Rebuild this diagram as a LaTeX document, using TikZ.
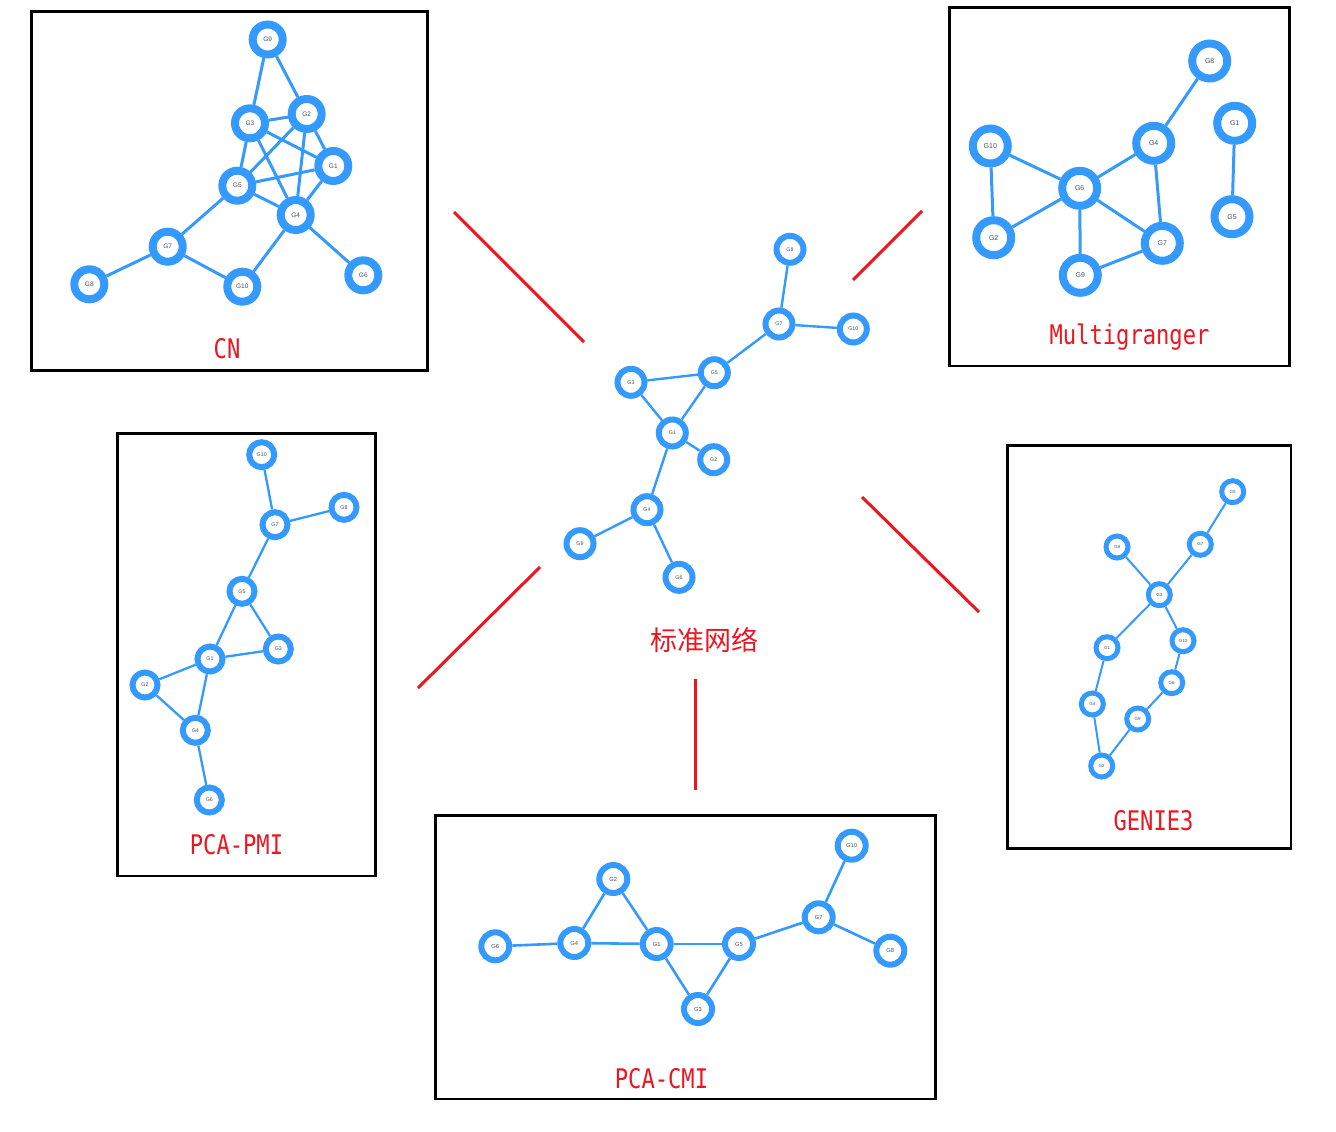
\documentclass[tikz,border=0pt]{standalone}
\usepackage{fontspec}
\usepackage{graphicx}
\newfontfamily\labfont{Liberation Sans}
\newfontfamily\ttlab{DejaVu Sans Mono}
\newfontfamily\cjkfont{Noto Sans CJK SC}
\definecolor{nblue}{RGB}{52,154,255}
\definecolor{ntext}{RGB}{70,78,95}
\definecolor{lred}{RGB}{236,22,32}
\tikzset{
  gn/.style={circle, draw=nblue, fill=white, inner sep=0pt, text=ntext},
  cnn/.style={gn, line width=8pt, minimum size=30pt, font=\labfont\fontsize{6.5}{6.5}\selectfont},
  mgn/.style={gn, line width=8pt, minimum size=35pt, font=\labfont\fontsize{7}{7}\selectfont},
  stn/.style={gn, line width=6pt, minimum size=27pt, font=\labfont\fontsize{5.3}{5.3}\selectfont},
  ppn/.style={gn, line width=6pt, minimum size=25pt, font=\labfont\fontsize{5.3}{5.3}\selectfont},
  gen/.style={gn, line width=5pt, minimum size=22pt, font=\labfont\fontsize{4.5}{4.5}\selectfont},
  pcn/.style={gn, line width=6pt, minimum size=28pt, font=\labfont\fontsize{5.8}{5.8}\selectfont},
  cne/.style={draw=nblue, line width=3pt},
  mge/.style={draw=nblue, line width=3pt},
  ste/.style={draw=nblue, line width=2.4pt},
  ppe/.style={draw=nblue, line width=2.3pt},
  gee/.style={draw=nblue, line width=2pt},
  pce/.style={draw=nblue, line width=2.6pt},
  panel/.style={draw=black, line width=2.5pt},
  redln/.style={draw=lred, line width=3pt},
  ptitle/.style={text=lred, inner sep=0pt, font=\ttlab\fontsize{27}{27}\selectfont},
}
\newcommand{\sq}[1]{\scalebox{0.82}[1]{#1}}
\begin{document}
\begin{tikzpicture}[x=1pt,y=-1pt]
\useasboundingbox (0,0) rectangle (1336,1132);
\fill[white] (0,0) rectangle (1336,1132);

% panel frames
\draw[panel] (31.5,11.5) rectangle (427.5,370.5);
\draw[panel] (949.5,7.5) rectangle (1289.5,366);
\draw[panel] (117.5,433.5) rectangle (375.5,876);
\draw[panel] (1007.5,445.5) rectangle (1291,848.5);
\draw[panel] (435.5,815.5) rectangle (935.5,1099);

% ---------- CN ----------
\node[cnn] (c9) at (267.7,39.5) {G9};
\node[cnn] (c3) at (250,123.3) {G3};
\node[cnn] (c2) at (306.7,114) {G2};
\node[cnn] (c1) at (333.3,166) {G1};
\node[cnn] (c5) at (237.3,185.7) {G5};
\node[cnn] (c4) at (295.7,215) {G4};
\node[cnn] (c7) at (167.7,246.7) {G7};
\node[cnn] (c8) at (89.3,284.3) {G8};
\node[cnn] (c10) at (242.3,286.7) {G10};
\node[cnn] (c6) at (363.3,275.3) {G6};
\foreach \a/\b in {c9/c3,c9/c2,c3/c2,c3/c1,c3/c5,c3/c4,c2/c5,c2/c4,c2/c1,c5/c1,c5/c4,c1/c4,c5/c7,c7/c8,c7/c10,c10/c4,c4/c6}
  \draw[cne] (\a) -- (\b);
\node[ptitle] (tcn) at (227,349) {\sq{CN}};

% ---------- Multigranger ----------
\node[mgn] (m8) at (1209.7,61) {G8};
\node[mgn] (m1) at (1234.7,123.3) {G1};
\node[mgn] (m4) at (1153.7,143.3) {G4};
\node[mgn] (m10) at (990.3,146) {G10};
\node[mgn] (m6) at (1079.7,188.3) {G6};
\node[mgn] (m5) at (1232,216.7) {G5};
\node[mgn] (m2) at (993.7,237.7) {G2};
\node[mgn] (m7) at (1162.3,243.3) {G7};
\node[mgn] (m9) at (1080.3,275.3) {G9};
\foreach \a/\b in {m8/m4,m4/m6,m4/m7,m10/m6,m10/m2,m6/m2,m6/m9,m6/m7,m9/m7,m1/m5}
  \draw[mge] (\a) -- (\b);
\node[ptitle] (tmg) at (1129.5,337) {\sq{Multigranger}};

% ---------- standard network ----------
\node[stn] (s8) at (790,249.3) {G8};
\node[stn] (s7) at (779,324) {G7};
\node[stn] (s10) at (853.3,329) {G10};
\node[stn] (s5) at (714.3,372.7) {G5};
\node[stn] (s3) at (631,382.3) {G3};
\node[stn] (s1) at (672.3,433) {G1};
\node[stn] (s2) at (713.7,459.7) {G2};
\node[stn] (s4) at (647,509.7) {G4};
\node[stn] (s9) at (580,543.7) {G9};
\node[stn] (s6) at (679,577.3) {G6};
\foreach \a/\b in {s8/s7,s7/s10,s7/s5,s5/s3,s3/s1,s5/s1,s1/s2,s1/s4,s4/s9,s4/s6}
  \draw[ste] (\a) -- (\b);
\node[text=lred, inner sep=0pt, font=\cjkfont\fontsize{27}{27}\selectfont] (tst) at (704,640) {标准网络};

% ---------- PCA-PMI ----------
\node[ppn] (p10) at (261.7,454.7) {G10};
\node[ppn] (p8) at (344,507.3) {G8};
\node[ppn] (p7) at (275,524.7) {G7};
\node[ppn] (p5) at (242,591.3) {G5};
\node[ppn] (p3) at (278.3,649) {G3};
\node[ppn] (p1) at (210,659) {G1};
\node[ppn] (p2) at (145,685) {G2};
\node[ppn] (p4) at (195.3,730.3) {G4};
\node[ppn] (p6) at (209.3,800) {G6};
\foreach \a/\b in {p10/p7,p7/p8,p7/p5,p5/p1,p5/p3,p1/p3,p1/p2,p1/p4,p2/p4,p4/p6}
  \draw[ppe] (\a) -- (\b);
\node[ptitle] (tpp) at (236.5,845) {\sq{PCA-PMI}};

% ---------- GENIE3 ----------
\node[gen] (g5) at (1232.7,491.7) {G5};
\node[gen] (g8) at (1117,547) {G8};
\node[gen] (g7) at (1200.3,544.3) {G7};
\node[gen] (g3) at (1159.3,594.7) {G3};
\node[gen] (g1) at (1107,647.7) {G1};
\node[gen] (g10) at (1183,640.7) {G10};
\node[gen] (g6) at (1171.7,682.7) {G6};
\node[gen] (g4) at (1092.3,704) {G4};
\node[gen] (g9) at (1137.7,719) {G9};
\node[gen] (g2) at (1101.7,766) {G2};
\foreach \a/\b in {g5/g7,g7/g3,g8/g3,g3/g1,g3/g10,g10/g6,g6/g9,g9/g2,g1/g4,g4/g2}
  \draw[gee] (\a) -- (\b);
\node[ptitle] (tge) at (1153.5,821) {\sq{GENIE3}};

% ---------- PCA-CMI ----------
\node[pcn] (q10) at (851.7,845.7) {G10};
\node[pcn] (q2) at (613.3,879) {G2};
\node[pcn] (q7) at (818.7,917.3) {G7};
\node[pcn] (q6) at (495.3,946.3) {G6};
\node[pcn] (q4) at (574.3,943) {G4};
\node[pcn] (q1) at (656.7,944) {G1};
\node[pcn] (q5) at (739,944) {G5};
\node[pcn] (q8) at (890.3,950.7) {G8};
\node[pcn] (q3) at (698,1009) {G3};
\foreach \a/\b in {q6/q4,q4/q2,q2/q1,q4/q1,q1/q5,q1/q3,q3/q5,q5/q7,q7/q10,q7/q8}
  \draw[pce] (\a) -- (\b);
\node[ptitle] (tpc) at (661.5,1078.7) {\sq{PCA-CMI}};

% ---------- red connectors ----------
\coordinate (r1a) at (454,212); \coordinate (r1b) at (584,342);
\coordinate (r2a) at (922,211); \coordinate (r2b) at (853,280);
\coordinate (r3a) at (862,497); \coordinate (r3b) at (979,612);
\coordinate (r4a) at (540,567); \coordinate (r4b) at (418,688);
\coordinate (r5a) at (695,679); \coordinate (r5b) at (695,790);
\draw[redln] (r1a) -- (r1b);
\draw[redln] (r2a) -- (r2b);
\draw[redln] (r3a) -- (r3b);
\draw[redln] (r4a) -- (r4b);
\draw[redln] (r5a) -- (r5b);
\end{tikzpicture}
\end{document}
